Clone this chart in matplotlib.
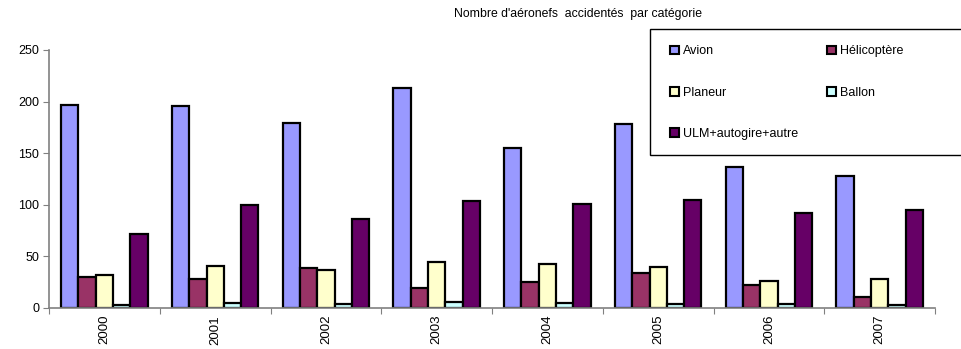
import matplotlib
matplotlib.use('Agg')
import matplotlib.pyplot as plt
import numpy as np
from matplotlib.patches import Patch, Rectangle

plt.rcParams['font.family'] = ['Liberation Sans', 'DejaVu Sans']

years = ['2000', '2001', '2002', '2003', '2004', '2005', '2006', '2007']
series = ['Avion', 'Hélicoptère', 'Planeur', 'Ballon', 'ULM+autogire+autre']
avion = [197, 196, 179, 213, 155, 178, 137, 128]
helico = [30, 28, 39, 19, 25, 34, 22, 11]
planeur = [32, 41, 37, 45, 43, 40, 26, 28]
ballon = [3, 5, 4, 6, 5, 4, 4, 3]
ulm = [72, 100, 86, 104, 101, 105, 92, 95]
colors = ['#9999FF', '#993366', '#FFFFCC', '#CCFFFF', '#660066']

values = [avion, helico, planeur, ballon, ulm]

fig = plt.figure(figsize=(9.61, 3.49), dpi=100)
ax = fig.add_axes([0.051, 0.1175, 0.922, 0.7395])

x = np.arange(len(years)) + 0.5
w = 0.156
for j, (name, vals) in enumerate(zip(series, values)):
    ax.bar(x + (j - 2) * w, vals, width=w, color=colors[j],
           edgecolor='black', linewidth=1.6, label=name)

ax.set_xlim(0, len(years))
ax.set_ylim(0, 250)
ax.set_yticks(range(0, 251, 50))

# year labels in the middle, ticks on the boundaries
ax.set_xticks(np.arange(len(years) + 1))
ax.set_xticklabels([])
ax.set_xticks(x, minor=True)
ax.set_xticklabels(years, minor=True, rotation=90, fontsize=9.5)
ax.tick_params(axis='x', which='minor', length=0, pad=5)
ax.tick_params(axis='x', which='major', length=4, color='#808080')
ax.tick_params(axis='y', length=4, color='#808080', labelsize=9, pad=3)

for s in ['top', 'right']:
    ax.spines[s].set_visible(False)
for s in ['left', 'bottom']:
    ax.spines[s].set_color('#808080')
    ax.spines[s].set_linewidth(1.2)

fig.text(0.601, 0.96, "Nombre d'aéronefs  accidentés  par catégorie",
         ha='center', va='center', fontsize=8.8)

# legend box, runs off the right edge like the original
fig.patches.append(Rectangle((650 / 961, 1 - 155 / 349), 0.5, 126 / 349,
                             transform=fig.transFigure, facecolor='white',
                             edgecolor='black', linewidth=1.0, zorder=5))
order = [0, 2, 4, 1, 3]
handles = [Patch(facecolor=colors[i], edgecolor='black', linewidth=1.5) for i in order]
labels = [series[i] for i in order]
leg = fig.legend(handles, labels, ncol=2, frameon=False, fontsize=9,
                 loc='upper left', bbox_to_anchor=(664 / 961, 1 - 39 / 349),
                 handlelength=0.7, handleheight=0.7, handletextpad=0.3,
                 labelspacing=2.34, columnspacing=2.36, borderpad=0)
leg.set_zorder(6)

fig.savefig('out.png', dpi=100)
